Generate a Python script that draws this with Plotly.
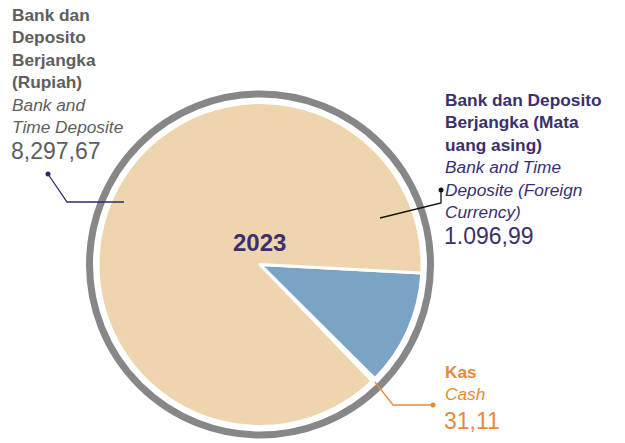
import plotly.graph_objects as go

W, H = 625, 443
OFF = 8  # page body margin compensation

# ---- data ----
labels = ["Bank dan Deposito Berjangka (Mata uang asing)", "Kas", "Bank dan Deposito Berjangka (Rupiah)"]
values = [1096.99, 31.11, 8297.67]
value_texts = ["1.096,99", "31,11", "8,297,67"]
colors = ["#7BA3C5", "#EED5AE", "#EED5AE"]
year_label = "2023"

def px(x):
    return (x - OFF) / W

def py(y):
    return 1 - (y - OFF) / H

cx, cy, r = 260, 264.5, 162

fig = go.Figure()
fig.add_trace(go.Pie(
    labels=labels, values=values, sort=False, direction="clockwise", rotation=93,
    marker=dict(colors=colors, line=dict(color="white", width=3)),
    textinfo="none", hoverinfo="skip", showlegend=False,
    domain=dict(x=[px(cx - r), px(cx + r)], y=[py(cy + r), py(cy - r)]),
))

shapes = []
rr = 170.5
shapes.append(dict(type="circle", xref="paper", yref="paper",
                   x0=px(cx - rr), x1=px(cx + rr), y0=py(cy + rr), y1=py(cy - rr),
                   line=dict(color="#87878A", width=7)))

def seg(pts, color):
    path = "M " + " L ".join(f"{px(x)},{py(y)}" for x, y in pts)
    return dict(type="path", xref="paper", yref="paper", path=path,
                line=dict(color=color, width=1.3))

def dot(x, y, color):
    d = 2.5
    return dict(type="circle", xref="paper", yref="paper",
                x0=px(x - d), x1=px(x + d), y0=py(y + d), y1=py(y - d),
                fillcolor=color, line=dict(color=color, width=0))

navy = "#2E2A66"
purple = "#3B2F6E"
gray = "#5E5E60"
orange = "#E8893A"

shapes += [seg([(48, 174), (67, 202), (124, 202)], navy), dot(48, 174, navy)]
shapes += [seg([(441, 190), (441, 203), (380, 218)], "#111111"), dot(441, 190, "#111111")]
shapes += [seg([(375, 382), (393, 405), (433, 405)], orange), dot(433, 405, orange)]

fnt = "Liberation Sans, Arial, sans-serif"
ann = []
def block(x, ytop, text, color, size):
    ann.append(dict(x=px(x), y=py(ytop), xref="paper", yref="paper", xanchor="left", yanchor="top",
                    text=text, showarrow=False, align="left",
                    font=dict(family=fnt, size=size, color=color)))

block(10, 3, "<b>Bank dan<br>Deposito<br>Berjangka<br>(Rupiah)</b><br><i>Bank and<br>Time Deposite</i>", gray, 17.3)
block(9, 136, value_texts[2], gray, 23)
block(443, 88, "<b>Bank dan Deposito<br>Berjangka (Mata<br>uang asing)</b><br><i>Bank and Time<br>Deposite (Foreign<br>Currency)</i>", purple, 17.3)
block(442, 221, value_texts[0], purple, 23)
block(443, 360, "<b>Kas</b><br><i>Cash</i>", orange, 17.3)
block(442, 406, value_texts[1], orange, 23)

ann.append(dict(x=px(259), y=py(242), xref="paper", yref="paper", xanchor="center", yanchor="middle",
                text=f"<b>{year_label}</b>", showarrow=False,
                font=dict(family=fnt, size=24, color=purple)))

fig.update_layout(width=W, height=H, autosize=False, margin=dict(l=0, r=0, t=0, b=0),
                  paper_bgcolor="white", plot_bgcolor="white",
                  shapes=shapes, annotations=ann)
fig.write_html("out.html")
